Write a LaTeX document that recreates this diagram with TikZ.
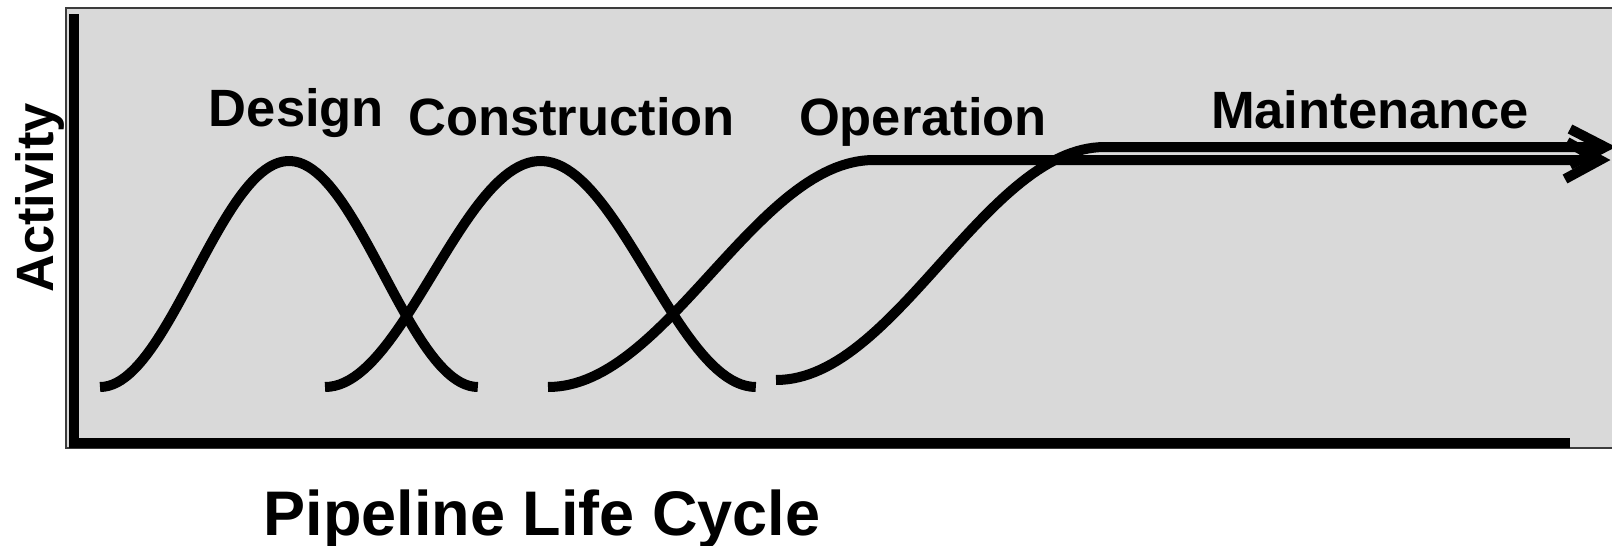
\documentclass[tikz,border=0pt]{standalone}
\usepackage{fontspec}
\setmainfont{Liberation Sans}
\definecolor{bggray}{RGB}{217,217,217}
\definecolor{edgegray}{RGB}{60,60,60}
\begin{document}
\begin{tikzpicture}[x=0.5pt,y=-0.5pt,
  curve/.style={line width=5pt, line cap=butt, line join=round},
  axisline/.style={line width=5pt, line cap=butt, line join=miter},
  chevron/.style={line width=5pt, line cap=butt, line join=miter},
  lbl/.style={font=\bfseries\fontsize{26.25}{30}\selectfont, inner sep=0pt, anchor=base},
  title/.style={font=\bfseries\fontsize{31.5}{36}\selectfont, inner sep=0pt, anchor=base}]
\useasboundingbox (0,0) rectangle (1612,546);
% panel
\fill[bggray] (66,8) rectangle (1612,448);
\draw[line width=0.8pt, edgegray] (1612,8) -- (66,8) -- (66,448) -- (1612,448);
% axes
\coordinate (ytop) at (74,14);
\coordinate (origin) at (74,443);
\coordinate (xend) at (1570,443);
\draw[axisline] (ytop) -- (origin) -- (xend);
% bells
\draw[curve] plot[domain=0:1, samples=90] ({100+378*\x},{387-226*(1-cos(360*\x))/2});
\draw[curve] plot[domain=0:1, samples=90] ({325+431*\x},{387-226*(1-cos(360*\x))/2});
% operation
\coordinate (optip) at (1600,160);
\draw[curve] plot[domain=0:1, samples=60] ({548+326*\x},{387-227*(1-cos(180*\x))/2}) -- (optip);
% maintenance
\coordinate (mtip) at (1605,147);
\draw[curve] plot[domain=0:1, samples=60] ({776+329*\x},{380-233*(1-cos(180*\x))/2}) -- (mtip);
% arrow heads
\draw[chevron] (1570,129) -- (mtip) -- (1570,165);
\draw[chevron] (1567,142) -- (optip) -- (1565,179);
% labels
\node[lbl] (design) at (296.5,126.5) {Design};
\node[lbl] (construction) at (571.5,135.5) {Construction};
\node[lbl] (operation) at (923,135.5) {Operation};
\node[lbl] (maintenance) at (1370,128.5) {Maintenance};
\node[lbl, rotate=90] (activity) at (54,198) {Activity};
\node[title] (pipeline) at (542,535) {Pipeline Life Cycle};
\end{tikzpicture}
\end{document}
